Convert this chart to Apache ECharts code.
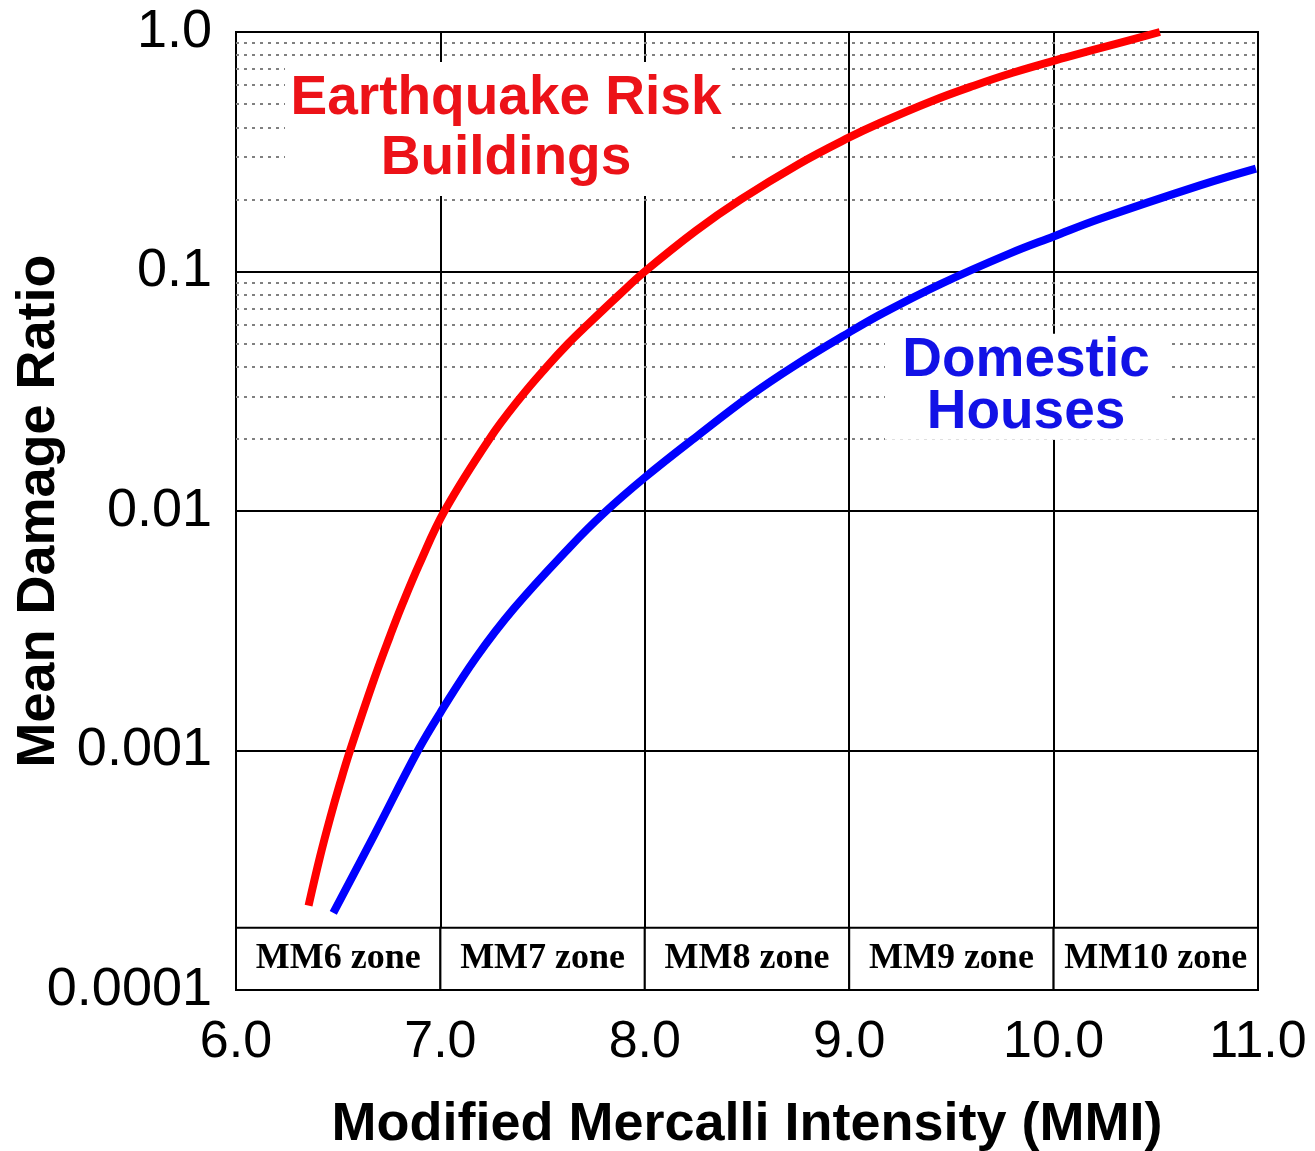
<!DOCTYPE html>
<html>
<head>
<meta charset="utf-8">
<script src="https://cdn.jsdelivr.net/npm/echarts@6/dist/echarts.min.js"></script>
<style>
html,body{margin:0;padding:0;background:#fff;}
#chart{width:1315px;height:1151px;}
</style>
</head>
<body>
<div id="chart"></div>
<script>
// ---- data ----
const xTickLabels = ['6.0', '7.0', '8.0', '9.0', '10.0', '11.0'];
const yTickLabels = ['0.0001', '0.001', '0.01', '0.1', '1.0'];
const yMajorValues = [0.001, 0.01, 0.1];

const zoneNames = ['MM6 zone', 'MM7 zone', 'MM8 zone', 'MM9 zone', 'MM10 zone'];
const zoneFrom = [6, 7, 8, 9, 10];
const zoneTo = [7, 8, 9, 10, 11];
const zoneBottom = 0.0001;
const zoneTop = 0.000182;

const redName = 'Earthquake Risk\nBuildings';
const redX = [6.355, 6.411, 6.46, 6.509, 6.558, 6.677, 6.753, 6.81, 6.897, 7.02, 7.24, 7.395, 7.52, 7.625, 7.72, 7.875, 8.0, 8.25, 8.47, 8.75, 9.0, 9.15, 9.40, 9.61, 9.80, 10.06, 10.31, 10.52];
const redY = [0.000225, 0.00036, 0.00052, 0.00073, 0.001, 0.002, 0.003, 0.004, 0.006, 0.01, 0.02, 0.03, 0.04, 0.05, 0.06, 0.08, 0.1, 0.148, 0.2, 0.28, 0.363, 0.417, 0.513, 0.597, 0.676, 0.783, 0.895, 1.0];

const blueName = 'Domestic\nHouses';
const blueX = [6.476, 6.68, 6.89, 7.0, 7.174, 7.36, 7.634, 7.80, 8.0, 8.27, 8.515, 8.73, 9.0, 9.165, 9.449, 9.787, 10.0, 10.227, 10.716, 10.99];
const blueY = [0.00021, 0.00045, 0.001, 0.00144, 0.00244, 0.00392, 0.00708, 0.0098, 0.0138, 0.021, 0.0303, 0.0403, 0.0557, 0.067, 0.0888, 0.119, 0.14, 0.166, 0.229, 0.269];

const redLabelAt = [7.321, 0.394];
const blueLabelAt = [9.865, 0.033];

// ---- build ----
const minorGrid = [];
[0.0001, 0.001, 0.01, 0.1].forEach(function (d) {
  for (let k = 2; k <= 9; k++) {
    const v = d * k;
    if (v > zoneTop) minorGrid.push({ yAxis: v });
  }
});
const majorGrid = yMajorValues.map(v => ({
  yAxis: v, lineStyle: { color: '#000', width: 2, type: 'solid' }
}));

const redData = redX.map((x, i) => [x, redY[i]]);
const blueData = blueX.map((x, i) => [x, blueY[i]]);

const zoneAreas = zoneNames.map((n, i) => [
  { name: n, coord: [zoneFrom[i], zoneBottom] },
  { coord: [zoneTo[i], zoneTop] }
]);

const chart = echarts.init(document.getElementById('chart'), null, { renderer: 'canvas' });

const option = {
  backgroundColor: '#ffffff',
  animation: false,
  grid: {
    left: 236, right: 57, top: 32, bottom: 161,
    containLabel: false, outerBoundsMode: 'none',
    show: true, borderColor: '#000', borderWidth: 2, backgroundColor: 'transparent'
  },
  xAxis: {
    type: 'value', min: 6, max: 11, interval: 1,
    name: 'Modified Mercalli Intensity (MMI)',
    nameLocation: 'middle', nameGap: 108, nameMoveOverlap: false,
    nameTextStyle: { fontFamily: 'Liberation Sans', fontWeight: 'bold', fontSize: 54, color: '#000' },
    axisLine: { show: true, lineStyle: { color: '#000', width: 2 } },
    axisTick: { show: false },
    axisLabel: {
      margin: 27, fontFamily: 'Liberation Sans', fontSize: 52, color: '#000',
      formatter: function (v) { return xTickLabels[Math.round(v - 6)]; }
    },
    splitLine: { show: true, lineStyle: { color: '#000', width: 2 } }
  },
  yAxis: {
    type: 'log', logBase: 10, min: 0.0001, max: 1,
    name: 'Mean Damage Ratio',
    nameLocation: 'middle', nameGap: 170, nameRotate: 90, nameMoveOverlap: false,
    nameTextStyle: { fontFamily: 'Liberation Sans', fontWeight: 'bold', fontSize: 54, color: '#000' },
    axisLine: { show: true, lineStyle: { color: '#000', width: 2 } },
    axisTick: { show: false },
    axisLabel: {
      margin: 24, fontFamily: 'Liberation Sans', fontSize: 54, color: '#000',
      formatter: function (v) { return yTickLabels[Math.round(Math.log10(v)) + 4]; }
    },
    splitLine: { show: true, lineStyle: { color: '#000', width: 2 } }
  },
  series: [
    {
      type: 'line', data: [], silent: true, z: 1,
      markLine: {
        silent: true, z: 1, symbol: ['none', 'none'], animation: false,
        label: { show: false },
        lineStyle: { color: '#808080', width: 2, type: [3, 5] },
        data: minorGrid.concat(majorGrid)
      },
      markArea: {
        silent: true, z: 2, animation: false,
        itemStyle: { color: '#ffffff', borderColor: '#000', borderWidth: 2 },
        label: {
          show: true, position: 'inside',
          fontFamily: 'Liberation Serif', fontWeight: 'bold', fontSize: 36, color: '#000'
        },
        data: zoneAreas
      },
      markPoint: {
        silent: true, z: 2, animation: false,
        data: [
          {
            coord: redLabelAt, symbol: 'rect', symbolSize: [442, 134],
            itemStyle: { color: '#ffffff' },
            label: {
              show: true, position: 'inside', formatter: redName,
              fontFamily: 'Liberation Sans', fontWeight: 'bold', fontSize: 55,
              lineHeight: 60, color: '#ec1218', align: 'center'
            }
          },
          {
            coord: blueLabelAt, symbol: 'rect', symbolSize: [282, 106],
            itemStyle: { color: '#ffffff' },
            label: {
              show: true, position: 'inside', formatter: blueName,
              fontFamily: 'Liberation Sans', fontWeight: 'bold', fontSize: 55,
              lineHeight: 52, color: '#1212e6', align: 'center'
            }
          }
        ]
      }
    },
    {
      name: 'Earthquake Risk Buildings', type: 'line', data: redData, z: 5,
      smooth: 0.4, showSymbol: false, symbol: 'none',
      lineStyle: { color: '#ff0000', width: 8, cap: 'butt', join: 'round' }
    },
    {
      name: 'Domestic Houses', type: 'line', data: blueData, z: 5,
      smooth: 0.4, showSymbol: false, symbol: 'none',
      lineStyle: { color: '#0000ff', width: 8, cap: 'butt', join: 'round' }
    }
  ]
};
chart.setOption(option);
</script>
</body>
</html>
